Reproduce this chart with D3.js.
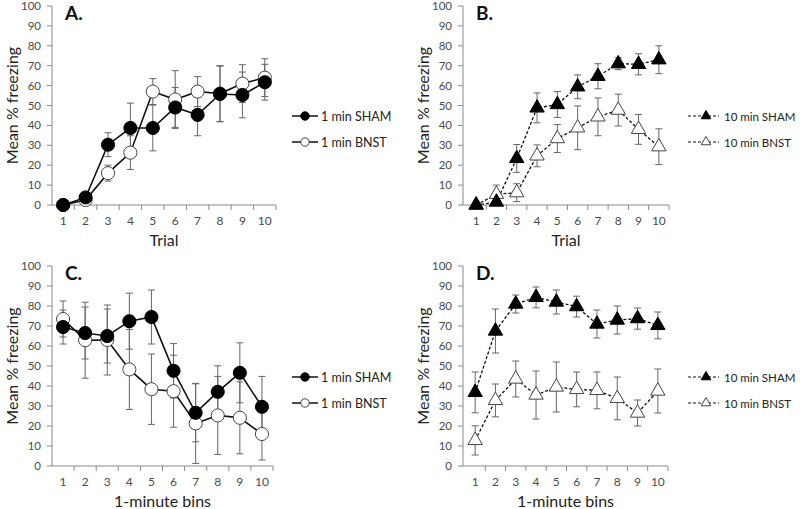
<!DOCTYPE html>
<html><head><meta charset="utf-8">
<script src="https://cdn.jsdelivr.net/npm/d3@7"></script>
<style>body{margin:0;background:#fff}svg{display:block}text{font-family:Lato,"Liberation Sans",sans-serif}</style>
</head><body><svg id="c" width="800" height="509"></svg>
<script>
const categories = [1,2,3,4,5,6,7,8,9,10];
const yTicks = [0,10,20,30,40,50,60,70,80,90,100];

// Panel A (Trial, 1 min)
const aShamMean = [0, 3.8, 30.3, 38.7, 38.7, 49, 45.3, 55.8, 55.3, 61.7];
const aShamErr  = [0, 1, 6, 12.5, 11.5, 10, 10.5, 14, 11.5, 9];
const aBnstMean = [0, 2.5, 16, 26.3, 57, 53, 57, 56, 61, 64];
const aBnstErr  = [0, 1, 4, 8.5, 6.5, 14.5, 7.5, 14, 9.5, 9.5];
// Panel B (Trial, 10 min)
const bShamMean = [0, 1.5, 23.4, 48.8, 50.5, 59.4, 64.7, 71, 70.7, 73];
const bShamErr  = [0, 1, 7, 7.5, 6.5, 6, 6.3, 3, 5.3, 7];
const bBnstMean = [0, 5.4, 6.2, 24.7, 33.4, 38.8, 44.3, 47.7, 38, 29.3];
const bBnstErr  = [0, 4.6, 4.5, 5.5, 7, 11, 9.5, 8, 7.5, 9];
// Panel C (1-minute bins, 1 min)
const cShamMean = [69.5, 66.5, 65, 72.4, 74.5, 47.6, 26.6, 37.1, 46.6, 29.6];
const cShamErr  = [8.5, 13, 13.5, 14, 13.5, 13.6, 14.5, 13, 15, 15.2];
const cBnstMean = [73.5, 62.9, 63, 48.3, 38.4, 37.4, 21.3, 25.3, 24.1, 16];
const cBnstErr  = [9, 19, 17.5, 20, 17.6, 18, 20, 19.5, 18, 13];
// Panel D (1-minute bins, 10 min)
const dShamMean = [36.8, 67.5, 81, 84.3, 82, 79.7, 71, 73, 73.7, 70.3];
const dShamErr  = [10.2, 11, 4.5, 5.2, 6, 5.2, 7, 7, 5.3, 6.7];
const dBnstMean = [12.8, 32.8, 43.5, 35.5, 39.5, 38.3, 37.8, 33.8, 26.5, 37.5];
const dBnstErr  = [7.3, 8.2, 9, 12, 12.5, 8.7, 9.2, 10.7, 6.5, 11];

const svg = d3.select("#c");
const axisColor = "#8a8a8a", tickText = "#4a4a4a";

const panels = [
  {letter:"A.", xTitle:"Trial", axisX:52, x0:52, x1:276, top:6, bottom:205, dashed:false, shape:"circle",
   series:[{name:"1 min SHAM", mean:aShamMean, err:aShamErr, filled:true},{name:"1 min BNST", mean:aBnstMean, err:aBnstErr, filled:false}],
   legX:292, legY:[116,142]},
  {letter:"B.", xTitle:"Trial", axisX:463, x0:466, x1:669, top:6, bottom:205, dashed:true, shape:"triangle",
   series:[{name:"10 min SHAM", mean:bShamMean, err:bShamErr, filled:true},{name:"10 min BNST", mean:bBnstMean, err:bBnstErr, filled:false}],
   legX:688, legY:[116,142]},
  {letter:"C.", xTitle:"1-minute bins", axisX:52, x0:52, x1:273, top:266, bottom:466, dashed:false, shape:"circle",
   series:[{name:"1 min SHAM", mean:cShamMean, err:cShamErr, filled:true},{name:"1 min BNST", mean:cBnstMean, err:cBnstErr, filled:false}],
   legX:292, legY:[377,403]},
  {letter:"D.", xTitle:"1-minute bins", axisX:463, x0:465, x1:668, top:266, bottom:466, dashed:true, shape:"triangle",
   series:[{name:"10 min SHAM", mean:dShamMean, err:dShamErr, filled:true},{name:"10 min BNST", mean:dBnstMean, err:dBnstErr, filled:false}],
   legX:688, legY:[377,403]}
];

panels.forEach(p => {
  const g = svg.append("g");
  const x = d3.scaleBand().domain(categories).range([p.x0, p.x1]);
  const y = d3.scaleLinear().domain([0,100]).range([p.bottom, p.top]);
  const cx = d => x(d) + x.bandwidth()/2;

  // y axis
  g.append("line").attr("x1",p.axisX).attr("x2",p.axisX).attr("y1",y(0)).attr("y2",y(100)).attr("stroke",axisColor);
  yTicks.forEach(t => {
    g.append("line").attr("x1",p.axisX-5).attr("x2",p.axisX).attr("y1",y(t)).attr("y2",y(t)).attr("stroke",axisColor);
    g.append("text").attr("x",p.axisX-11).attr("y",y(t)+4).attr("text-anchor","end")
      .attr("font-size",11.5).attr("fill",tickText).text(t);
  });
  // x axis
  g.append("line").attr("x1",p.axisX).attr("x2",p.x1).attr("y1",y(0)).attr("y2",y(0)).attr("stroke",axisColor);
  categories.forEach((c,i) => {
    const bx = x(c) + x.bandwidth();
    g.append("line").attr("x1",bx).attr("x2",bx).attr("y1",y(0)).attr("y2",y(0)+5).attr("stroke",axisColor);
    g.append("text").attr("x",cx(c)).attr("y",y(0)+20).attr("text-anchor","middle")
      .attr("font-size",12).attr("fill",tickText).text(c);
  });
  // titles
  g.append("text").attr("x",(p.axisX+p.x1)/2).attr("y",y(0)+41).attr("text-anchor","middle")
    .attr("font-size",16).attr("fill","#222").text(p.xTitle);
  g.append("text").attr("transform",`translate(${p.axisX-34},${(p.top+p.bottom)/2}) rotate(-90)`)
    .attr("text-anchor","middle").attr("font-size",16).attr("fill","#222").text("Mean % freezing");
  g.append("text").attr("x",p.axisX+13).attr("y",p.top+14).attr("font-family","'Liberation Sans',Arial,sans-serif")
    .attr("font-weight","bold").attr("font-size",19).attr("fill","#111").text(p.letter);

  const sym = p.shape === "circle" ? d3.symbolCircle : d3.symbolTriangle;
  const symSize = p.shape === "circle" ? 135 : 90;
  const dash = p.dashed ? "3,2" : null;

  // error bars
  p.series.forEach(s => {
    categories.forEach((c,i) => {
      if (s.err[i] <= 0) return;
      const xx = cx(c), y1 = y(s.mean[i]+s.err[i]), y2 = y(Math.max(0,s.mean[i]-s.err[i]));
      g.append("line").attr("x1",xx).attr("x2",xx).attr("y1",y1).attr("y2",y2).attr("stroke","#666").attr("stroke-width",1);
      [y1,y2].forEach(yy => g.append("line").attr("x1",xx-3.5).attr("x2",xx+3.5).attr("y1",yy).attr("y2",yy).attr("stroke","#666"));
    });
  });
  // lines
  p.series.forEach(s => {
    const line = d3.line().x((d,i)=>cx(categories[i])).y(d=>y(d));
    g.append("path").attr("d",line(s.mean)).attr("fill","none").attr("stroke","#111")
      .attr("stroke-width",p.dashed?1.3:1.6).attr("stroke-dasharray",dash);
  });
  // markers
  p.series.slice().reverse().forEach(s => {
    categories.forEach((c,i) => {
      g.append("path").attr("d",d3.symbol().type(sym).size(symSize)())
        .attr("transform",`translate(${cx(c)},${y(s.mean[i])})`)
        .attr("fill",s.filled?"#000":"#fff").attr("stroke",s.filled?"#000":"#444").attr("stroke-width",1);
    });
  });
  // legend
  p.series.forEach((s,k) => {
    const ly = p.legY[k];
    const lw = p.dashed ? 31 : 26;
    g.append("line").attr("x1",p.legX).attr("x2",p.legX+lw).attr("y1",ly).attr("y2",ly)
      .attr("stroke","#111").attr("stroke-width",p.dashed?1.2:1.5).attr("stroke-dasharray",dash);
    g.append("path").attr("d",d3.symbol().type(sym).size(p.shape==="circle"?55:40)())
      .attr("transform",`translate(${p.legX+(p.dashed?18:13)},${ly})`)
      .attr("fill",s.filled?"#000":"#fff").attr("stroke",s.filled?"#000":"#444");
    g.append("text").attr("x",p.legX+lw+(p.dashed?5:3)).attr("y",ly+4.5).attr("font-size",p.dashed?11.5:12.5)
      .attr("fill","#222").text(s.name);
  });
});
</script></body></html>
